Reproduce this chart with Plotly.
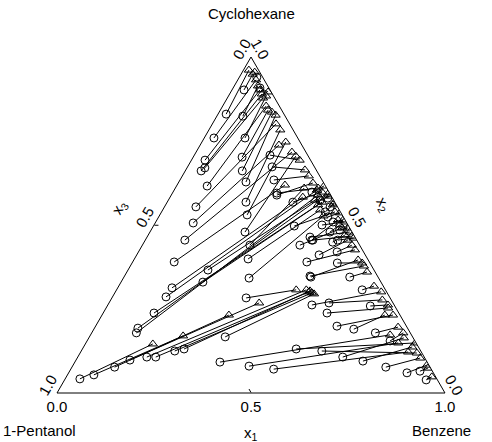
import plotly.graph_objects as go

# Tie-line end compositions (mole fractions).
# x1 = Benzene, x2 = Cyclohexane, x3 = 1-Pentanol (= 1 - x1 - x2)
# Phase drawn with circles
circ_x1 = [0.021, 0.031, 0.045, 0.025, 0.067, 0.035, 0.041, 0.046, 0.105, 0.069,
           0.079, 0.126, 0.147, 0.173, 0.081, 0.203, 0.098, 0.225, 0.102, 0.245,
           0.195, 0.218, 0.242, 0.272, 0.107, 0.277, 0.140, 0.206, 0.211, 0.293,
           0.324, 0.115, 0.112, 0.131, 0.138, 0.324, 0.269, 0.422, 0.363, 0.429,
           0.406, 0.486, 0.470, 0.512, 0.449, 0.482, 0.464, 0.408, 0.582, 0.529,
           0.633, 0.478, 0.346, 0.038, 0.068, 0.110, 0.139, 0.178, 0.201, 0.241,
           0.262, 0.350, 0.526, 0.567, 0.577, 0.622, 0.670, 0.731, 0.781, 0.374,
           0.455, 0.523, 0.551, 0.620, 0.741, 0.809, 0.872, 0.903, 0.932, 0.683,
           0.678, 0.427, 0.436, 0.457, 0.486, 0.420, 0.432, 0.496, 0.391, 0.358,
           0.433]
circ_x2 = [0.830, 0.902, 0.940, 0.759, 0.824, 0.693, 0.661, 0.670, 0.759, 0.908,
           0.616, 0.702, 0.661, 0.628, 0.554, 0.568, 0.506, 0.530, 0.455, 0.479,
           0.708, 0.673, 0.634, 0.589, 0.390, 0.440, 0.313, 0.366, 0.330, 0.399,
           0.342, 0.179, 0.193, 0.238, 0.286, 0.568, 0.595, 0.539, 0.497, 0.455,
           0.440, 0.449, 0.411, 0.420, 0.390, 0.345, 0.479, 0.580, 0.345, 0.387,
           0.307, 0.348, 0.283, 0.042, 0.054, 0.077, 0.098, 0.107, 0.107, 0.125,
           0.131, 0.167, 0.262, 0.268, 0.238, 0.199, 0.190, 0.179, 0.155, 0.092,
           0.080, 0.071, 0.131, 0.125, 0.095, 0.077, 0.060, 0.065, 0.039, 0.107,
           0.259, 0.554, 0.524, 0.509, 0.485, 0.464, 0.455, 0.455, 0.574, 0.598,
           0.500]
# Phase drawn with triangles
tri_x1 = [0.014, 0.030, 0.032, 0.047, 0.061, 0.072, 0.083, 0.092, 0.097, 0.096,
          0.112, 0.123, 0.136, 0.150, 0.164, 0.184, 0.203, 0.216, 0.247, 0.263,
          0.279, 0.307, 0.326, 0.347, 0.278, 0.332, 0.342, 0.378, 0.393, 0.406,
          0.423, 0.378, 0.388, 0.399, 0.368, 0.384, 0.368, 0.431, 0.447, 0.467,
          0.489, 0.507, 0.522, 0.540, 0.555, 0.578, 0.479, 0.402, 0.619, 0.593,
          0.658, 0.602, 0.463, 0.174, 0.240, 0.327, 0.387, 0.489, 0.499, 0.508,
          0.500, 0.515, 0.685, 0.700, 0.727, 0.750, 0.729, 0.781, 0.803, 0.772,
          0.805, 0.844, 0.849, 0.868, 0.847, 0.884, 0.912, 0.919, 0.942, 0.812,
          0.722, 0.431, 0.461, 0.480, 0.504, 0.515, 0.526, 0.534, 0.410, 0.380,
          0.486]
tri_x2 = [0.961, 0.949, 0.955, 0.932, 0.914, 0.902, 0.890, 0.878, 0.884, 0.896,
          0.854, 0.842, 0.836, 0.827, 0.801, 0.783, 0.738, 0.747, 0.717, 0.705,
          0.693, 0.664, 0.646, 0.625, 0.619, 0.610, 0.583, 0.574, 0.560, 0.545,
          0.527, 0.589, 0.580, 0.568, 0.604, 0.598, 0.610, 0.560, 0.539, 0.515,
          0.491, 0.470, 0.455, 0.440, 0.426, 0.396, 0.500, 0.592, 0.360, 0.387,
          0.318, 0.378, 0.307, 0.146, 0.170, 0.232, 0.268, 0.307, 0.301, 0.298,
          0.304, 0.295, 0.301, 0.277, 0.253, 0.232, 0.232, 0.196, 0.179, 0.173,
          0.149, 0.122, 0.149, 0.119, 0.137, 0.104, 0.083, 0.074, 0.048, 0.164,
          0.262, 0.565, 0.536, 0.515, 0.491, 0.479, 0.467, 0.461, 0.586, 0.616,
          0.509]

tick_vals = [0, 0.5, 1]
tick_text = ["1.0", "0.5", "0.0"]
vertex_names = ["Cyclohexane", "1-Pentanol", "Benzene"]

FONT = "Liberation Sans, Arial, sans-serif"

circ_x3 = [1 - p - q for p, q in zip(circ_x1, circ_x2)]
tri_x3 = [1 - p - q for p, q in zip(tri_x1, tri_x2)]

# tie lines
la, lb, lc = [], [], []
for i in range(len(circ_x1)):
    la += [circ_x2[i], tri_x2[i], None]
    lb += [circ_x3[i], tri_x3[i], None]
    lc += [circ_x1[i], tri_x1[i], None]

fig = go.Figure()
fig.add_trace(go.Scatterternary(a=la, b=lb, c=lc, mode="lines",
                                line=dict(color="black", width=1),
                                hoverinfo="skip", showlegend=False))
fig.add_trace(go.Scatterternary(a=circ_x2, b=circ_x3, c=circ_x1, mode="markers",
                                marker=dict(symbol="circle-open", size=8,
                                            color="black", line=dict(width=1)),
                                showlegend=False))
fig.add_trace(go.Scatterternary(a=tri_x2, b=tri_x3, c=tri_x1, mode="markers",
                                marker=dict(symbol="triangle-up-open", size=8,
                                            color="black", line=dict(width=1)),
                                showlegend=False))

axis_common = dict(showgrid=False, showline=True, linecolor="black", linewidth=1,
                   ticks="inside", ticklen=4, tickcolor="black",
                   tickmode="array", tickvals=tick_vals, ticktext=tick_text,
                   tickfont=dict(family=FONT, size=15, color="black"),
                   title=dict(text=""), min=0)


def label(text, x, y, angle=0):
    return dict(text=text, x=x, y=y, xref="paper", yref="paper",
                xanchor="center", yanchor="middle", showarrow=False,
                textangle=angle, font=dict(family=FONT, size=15, color="black"))


fig.update_layout(
    width=492, height=442,
    margin=dict(l=57, r=47, t=57, b=49),
    paper_bgcolor="white",
    font=dict(family=FONT, size=15, color="black"),
    ternary=dict(
        sum=1,
        bgcolor="white",
        domain=dict(x=[0, 1], y=[0, 1]),
        aaxis=dict(**axis_common, tickangle=-60),
        baxis=dict(**axis_common, tickangle=0),
        caxis=dict(**axis_common, tickangle=60),
    ),
    annotations=[
        label(vertex_names[0], 0.5, 1.128),
        label(vertex_names[1], -0.044, -0.113),
        label(vertex_names[2], 0.992, -0.113),
        label("x<sub>1</sub>", 0.5, -0.12),
        label("x<sub>2</sub>", 0.840, 0.560, 60),
        label("x<sub>3</sub>", 0.162, 0.551, -60),
    ],
)

fig.write_html("out.html", config={"displayModeBar": False},
               post_script="document.body.style.margin='0px';")
